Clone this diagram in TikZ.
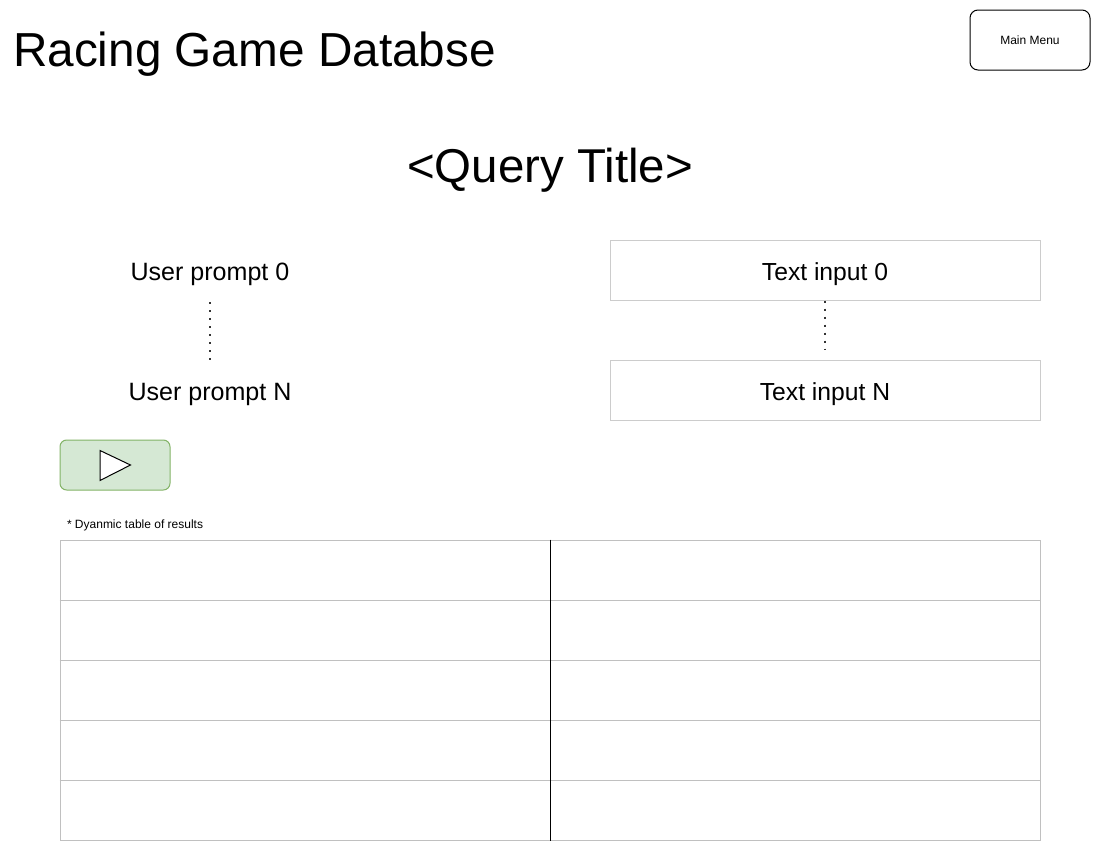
\documentclass[tikz,border=0pt]{standalone}
\usepackage{fontspec}
\setmainfont{Liberation Sans}
\definecolor{boxgray}{HTML}{CCCCCC}
\definecolor{tblgray}{HTML}{C0C0C0}
\definecolor{playfill}{HTML}{D5E8D4}
\definecolor{playdraw}{HTML}{82B366}
\newcommand{\fs}[1]{\fontsize{#1}{#1}\selectfont}
\newcommand{\lowr}[1]{\raisebox{-7.5pt}[0pt][0pt]{#1}}
\begin{document}
\begin{tikzpicture}[x=0.75pt,y=-0.75pt,
  txt/.style={inner sep=0pt,outer sep=0pt,anchor=center},
  inbox/.style={draw=boxgray,line width=0.75pt,minimum width=430*0.75pt,minimum height=60*0.75pt,inner sep=0pt,font=\fs{18.5}},
  prompt/.style={minimum width=200*0.75pt,minimum height=60*0.75pt,inner sep=0pt,font=\fs{18.8}},
  dotline/.style={line width=1.5pt,dash pattern=on 1.5pt off 4.5pt,color=black!80},
  menubtn/.style={draw=black,line width=0.75pt,rounded corners=6pt,minimum width=120*0.75pt,minimum height=60*0.75pt,inner sep=0pt,font=\fs{9}},
  playbtn/.style={draw=playdraw,fill=playfill,line width=0.75pt,rounded corners=5pt,minimum width=110*0.75pt,minimum height=50*0.75pt,inner sep=0pt},
  tblline/.style={draw=tblgray,line width=0.75pt}
]
\useasboundingbox (0,0) rectangle (1101,843);
% title
\node[txt,anchor=west,font=\fs{35.8}] (title) at (13,54) {Racing Game Databse};
\node[menubtn] (menu) at (1030,40) {Main Menu};
\node[txt,font=\fs{35.6}] (qtitle) at (550,170) {<Query Title>};
% prompts
\node[prompt] (p0) at (210,270) {\lowr{User prompt 0}};
\node[prompt] (pN) at (210,390) {\lowr{User prompt N}};
\node[inbox] (t0) at (825,270) {\lowr{Text input 0}};
\node[inbox] (tN) at (825,390) {\lowr{Text input N}};
\draw[dotline] ([yshift=-1.5pt]p0.south) -- (pN.north);
\draw[dotline] (t0.south) -- ([yshift=7.5pt]tN.north);
% play button
\node[playbtn] (play) at (115,465) {};
\draw[line width=0.75pt,fill=white] (100,450.5) coordinate (ta) -- (130.5,465) coordinate (tb) -- (100,480.5) coordinate (tc) -- cycle;
% table note
\node[txt,anchor=west,font=\fs{9}] (note) at (67,525.5) {* Dyanmic table of results};
% table
\node[draw=tblgray,line width=0.75pt,minimum width=980*0.75pt,minimum height=300*0.75pt,inner sep=0pt] (tbl) at (550,690) {};
\foreach \r in {600,660,720,780}{
  \draw[tblline] (tbl.west |- 0,\r) -- (tbl.east |- 0,\r);
}
\draw[black,line width=0.75pt] (tbl.north) -- (tbl.south);
\end{tikzpicture}
\end{document}
